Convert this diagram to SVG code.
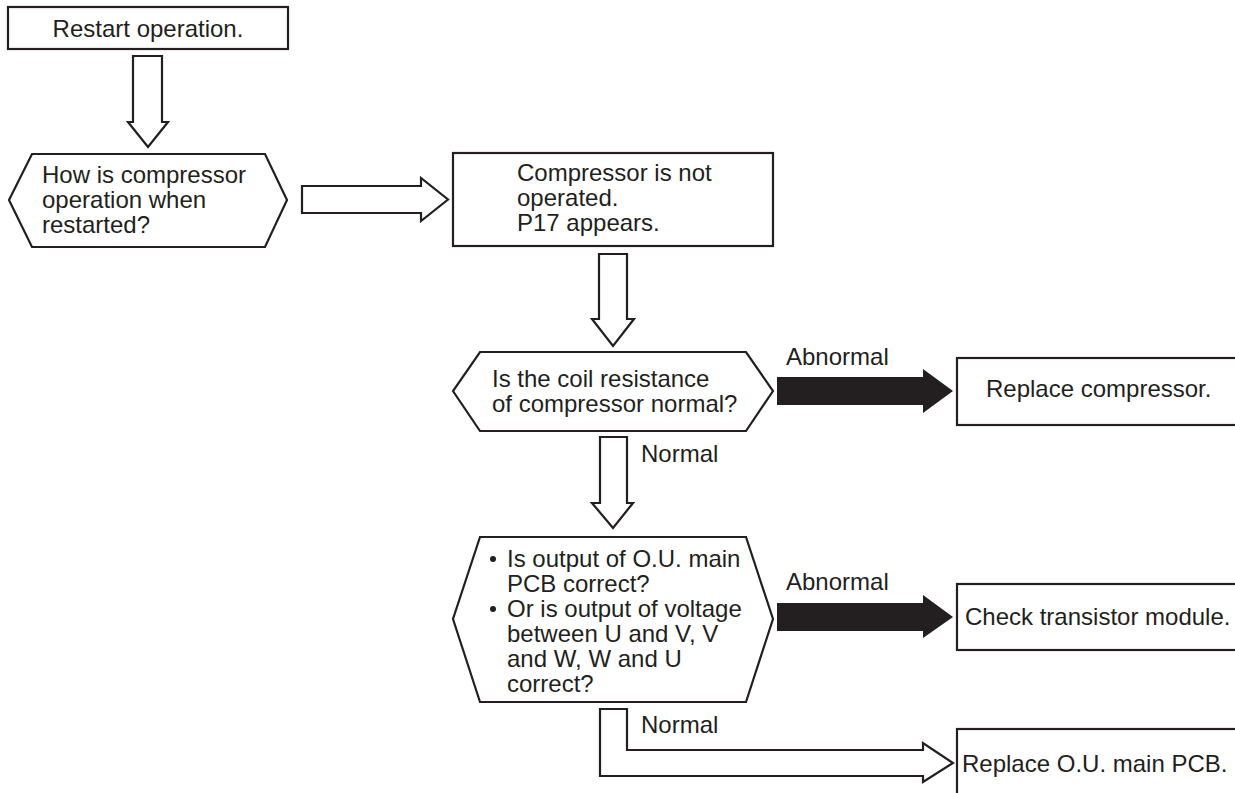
<svg xmlns="http://www.w3.org/2000/svg" width="1235" height="793" viewBox="0 0 1235 793">
<style>
.s{fill:#fff;stroke:#231f20;stroke-width:2.2;stroke-linejoin:miter}
.a{fill:#fff;stroke:#231f20;stroke-width:2.2;stroke-linejoin:miter}
.b{fill:#231f20;stroke:none}
text{font-family:"Liberation Sans",Arial,sans-serif;font-size:24px;fill:#231f20}
</style>
<rect width="1235" height="793" fill="#fff"/>
<g id="connectors">
<path class="a" d="M133,56 H162 V122 H168 L148,147 L128,122 H133 Z"/>
<path class="a" d="M302,186 H421 V178 L448,199.5 L421,221 V213 H302 Z"/>
<path class="a" d="M599,254 H627 V319 H634 L613,346 L592,319 H599 Z"/>
<path class="a" d="M600,437 H627 V503 H633 L613,528 L592,503 H600 Z"/>
<path class="b" d="M777,377 H923 V369 L953,391 L923,413 V405 H777 Z"/>
<path class="b" d="M777,603 H923 V595 L953,617 L923,638 V631 H777 Z"/>
<path class="a" d="M600,709 H627 V750 H923 V743 L953,763 L923,782 V776 H600 Z"/>
<text x="641" y="462">Normal</text>
<text x="786" y="365">Abnormal</text>
<text x="786" y="590">Abnormal</text>
<text x="641" y="733">Normal</text>
</g>
<g id="n1">
<rect class="s" x="8" y="7" width="280" height="42"/>
<text x="148" y="37" text-anchor="middle">Restart operation.</text>
</g>
<g id="n2">
<path class="s" d="M32,154 H265 L287,200 L265,247 H32 L9,200 Z"/>
<text x="42" y="183">How is compressor</text>
<text x="42" y="208">operation when</text>
<text x="42" y="233">restarted?</text>
</g>
<g id="n3">
<rect class="s" x="453" y="153" width="320" height="93"/>
<text x="517" y="181">Compressor is not</text>
<text x="517" y="206">operated.</text>
<text x="517" y="231">P17 appears.</text>
</g>
<g id="n4">
<path class="s" d="M480,352 H746 L773,391 L746,431 H480 L453,391 Z"/>
<text x="492" y="387">Is the coil resistance</text>
<text x="492" y="412">of compressor normal?</text>
</g>
<g id="n5">
<rect class="s" x="957" y="358" width="280" height="67"/>
<text x="986" y="397">Replace compressor.</text>
</g>
<g id="n6">
<path class="s" d="M480,537 H746 L773,619 L746,702 H480 L453,619 Z"/>
<circle cx="493" cy="559" r="3" fill="#231f20"/>
<circle cx="493" cy="609" r="3" fill="#231f20"/>
<text x="507" y="567">Is output of O.U. main</text>
<text x="507" y="592">PCB correct?</text>
<text x="507" y="617">Or is output of voltage</text>
<text x="507" y="642">between U and V, V</text>
<text x="507" y="667">and W, W and U</text>
<text x="507" y="692">correct?</text>
</g>
<g id="n7">
<rect class="s" x="957" y="584" width="280" height="66"/>
<text x="965" y="625">Check transistor module.</text>
</g>
<g id="n8">
<rect class="s" x="957" y="729" width="280" height="70"/>
<text x="962" y="772">Replace O.U. main PCB.</text>
</g>
</svg>
